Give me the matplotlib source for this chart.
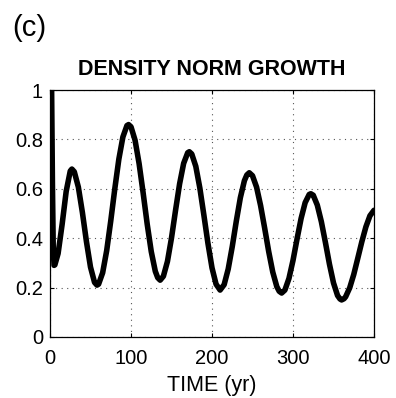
import matplotlib
matplotlib.use("Agg")
import matplotlib.pyplot as plt

plt.rcParams['font.family'] = ['Liberation Sans', 'DejaVu Sans']

time_yr = [0, 2, 3, 4, 5, 6, 10, 15, 20, 25, 27, 30, 35, 40, 45, 50, 55, 58, 60, 65, 70,
           75, 80, 85, 90, 95, 97, 100, 105, 110, 115, 120, 125, 130, 133, 136, 140,
           145, 150, 155, 160, 165, 170, 172, 175, 180, 185, 190, 195, 200, 205, 210,
           215, 220, 225, 230, 235, 240, 243, 246, 250, 255, 260, 265, 270, 275, 280,
           283, 286, 290, 295, 300, 305, 310, 315, 320, 322, 325, 330, 335, 340, 345,
           350, 355, 358, 360, 363, 365, 370, 375, 380, 385, 390, 395, 400]
density_norm_growth = [1.5, 1.0, 0.62, 0.36, 0.29, 0.292, 0.338, 0.457, 0.590, 0.672,
                       0.680, 0.669, 0.607, 0.504, 0.386, 0.283, 0.221, 0.210, 0.214,
                       0.260, 0.350, 0.470, 0.600, 0.720, 0.810, 0.856, 0.860, 0.851,
                       0.797, 0.702, 0.583, 0.457, 0.346, 0.266, 0.240, 0.230, 0.246,
                       0.306, 0.401, 0.513, 0.620, 0.703, 0.746, 0.750, 0.741, 0.691,
                       0.603, 0.493, 0.379, 0.280, 0.214, 0.190, 0.212, 0.275, 0.366,
                       0.469, 0.564, 0.633, 0.656, 0.665, 0.653, 0.607, 0.532, 0.441,
                       0.346, 0.263, 0.204, 0.185, 0.178, 0.190, 0.237, 0.310, 0.397,
                       0.480, 0.544, 0.577, 0.580, 0.574, 0.534, 0.467, 0.383, 0.295,
                       0.219, 0.168, 0.154, 0.150, 0.155, 0.163, 0.199, 0.253, 0.319,
                       0.386, 0.446, 0.491, 0.513]

x_ticks = [0, 100, 200, 300, 400]
y_ticks = [0, 0.2, 0.4, 0.6, 0.8, 1]
y_tick_labels = ["0", "0.2", "0.4", "0.6", "0.8", "1"]

fig = plt.figure(figsize=(3.96, 3.98), dpi=100)
ax = fig.add_axes([50 / 396, 1 - 337 / 398, 324 / 396, 247 / 398])

ax.plot(time_yr, density_norm_growth, color='black', linewidth=4.0,
        solid_capstyle='round', solid_joinstyle='round')

ax.set_xlim(0, 400)
ax.set_ylim(0, 1)
ax.set_xticks(x_ticks)
ax.set_yticks(y_ticks)
ax.set_yticklabels(y_tick_labels)
ax.tick_params(direction='in', top=True, right=True, labelsize=14.5, length=3,
               width=0.8)
ax.tick_params(axis='x', pad=9)
ax.tick_params(axis='y', pad=5)
ax.grid(True, linestyle=(0, (1, 4)), color='#555555', linewidth=0.8)
for s in ax.spines.values():
    s.set_linewidth(0.9)

ax.set_title("DENSITY NORM GROWTH", fontsize=15.5, fontweight='bold', pad=11)
ax.set_xlabel("TIME (yr)", fontsize=15.5, labelpad=5)

fig.text(12 / 396, 1 - 28 / 398, "(c)", fontsize=21, va='center', ha='left')

fig.savefig("out.png", dpi=100)
